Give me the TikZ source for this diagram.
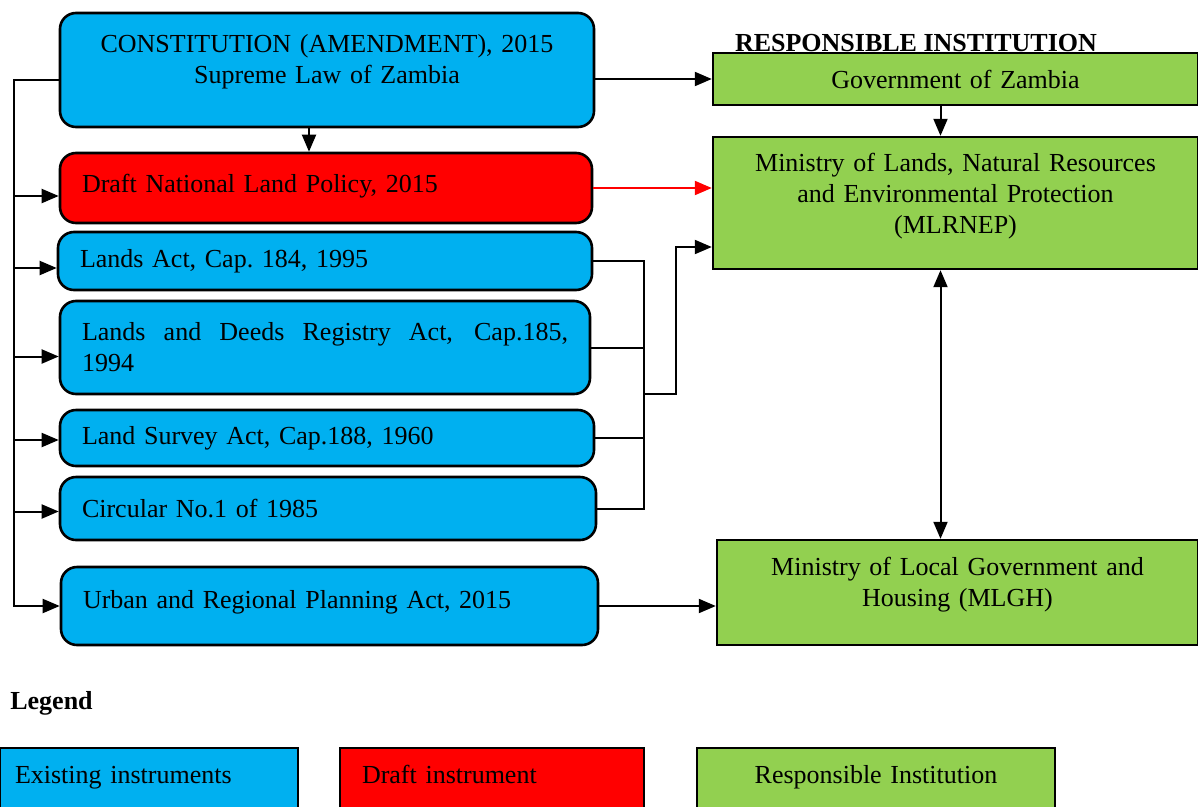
\documentclass[tikz,border=0pt]{standalone}
\usepackage{fontspec}
\setmainfont{Liberation Serif}
\usepackage{tikz}
\usetikzlibrary{arrows.meta,positioning}
\definecolor{instblue}{HTML}{00B0F0}
\definecolor{draftred}{HTML}{FF0000}
\definecolor{instgreen}{HTML}{92D050}

\begin{document}
\begin{tikzpicture}
[x=1pt,y=-1pt,
>={Triangle[length=17pt,width=14pt]},
line width=2pt,
every node/.style={font=\fontsize{26}{31}\selectfont},
law node/.style={draw, line width=2.6pt, rounded corners=16pt, fill=instblue,
  inner xsep=22pt, inner ysep=0pt, text width=490pt, align=left},
draft node/.style={law node, fill=draftred},
inst node/.style={draw, line width=2.4pt, fill=instgreen, inner sep=0pt,
  minimum width=485pt, text width=470pt, align=center},
legend node/.style={draw, line width=2.4pt, inner xsep=15pt, inner ysep=0pt,
  minimum height=62pt, text height=18pt, text depth=9pt},
heading/.style={font=\fontsize{26}{31}\selectfont\bfseries}]

  \useasboundingbox (0,0) rectangle (1198,806);

  % instruments
  \node[law node, minimum height=114pt, align=center, text depth=53pt] (const) at (327,70)
    {CONSTITUTION (AMENDMENT), 2015\\Supreme Law of Zambia};
  \node[draft node, minimum height=70pt, text width=488pt, text depth=10pt] (draft) at (326,188)
    {Draft National Land Policy, 2015};
  \node[law node, minimum height=58pt] (lands) at (325,261)
    {Lands Act, Cap.\ 184, 1995};
  \node[law node, minimum height=93pt, text width=486pt, align=justify] (deeds) at (325,347.5)
    {Lands and Deeds Registry Act, Cap.185,\linebreak 1994};
  \node[law node, minimum height=56pt] (survey) at (327,438)
    {Land Survey Act, Cap.188, 1960};
  \node[law node, minimum height=63pt, text width=492pt] (circular) at (328,508.5)
    {Circular No.1 of 1985};
  \node[law node, minimum height=78pt, text width=493pt, text depth=14pt] (urban) at (329.5,606)
    {Urban and Regional Planning Act, 2015};

  % responsible institutions
  \node[heading, anchor=base] (resp) at (916,51) {RESPONSIBLE INSTITUTION};
  \node[inst node, minimum height=52pt] (gov) at (955.5,79) {Government of Zambia};
  \node[inst node, minimum height=132pt, text depth=82pt] (mlrnep) at (955.5,203)
    {Ministry of Lands, Natural Resources\\and Environmental Protection\\(MLRNEP)};
  \node[inst node, minimum height=105pt, minimum width=481pt, text depth=53pt] (mlgh) at (957.5,592.5)
    {Ministry of Local Government and\\Housing (MLGH)};

  % left bus
  \coordinate (bus) at (14,80);
  \draw[->] ([yshift=-10pt]const.west) -- (bus) |- (urban.west);
  \foreach \law/\dy in {draft/8,lands/7,deeds/9,survey/2,circular/3}
    \draw[->] ([yshift=-\dy pt]bus |- \law.west) -- ([yshift=-\dy pt]\law.west);

  \draw[->] ([xshift=-18pt]const.south) -- ([xshift=-18pt]const.south |- draft.north);
  \draw[->] (const.east |- gov.west) -- (gov.west);
  \draw[->, draftred] (draft.east) -- (draft.east -| mlrnep.west);

  % acts joined to the ministry
  \coordinate (join) at (644,394);
  \coordinate (elbow) at (676,247);
  \draw (lands.east) -- (lands.east -| join) -- (circular.east -| join) -- (circular.east);
  \draw (deeds.east) -- (deeds.east -| join);
  \draw (survey.east) -- (survey.east -| join);
  \draw[->] (join) -| (elbow) -- (elbow -| mlrnep.west);

  \draw[->] ([xshift=-15pt]gov.south) -- ([xshift=-15pt]gov.south |- mlrnep.north);
  \draw[<->] ([xshift=-15pt]mlrnep.south) -- ([xshift=-15pt]mlrnep.south |- mlgh.north);
  \draw[->] (urban.east) -- (urban.east -| mlgh.west);

  % legend
  \node[heading, anchor=west] (legend) at (6,703) {Legend};
  \node[legend node, fill=instblue, minimum width=298pt, text width=268pt, align=left]
    (legexist) at (149,779) {Existing instruments};
  \node[legend node, fill=draftred, minimum width=304pt, inner xsep=22pt, text width=260pt, align=left]
    (legdraft) at (492,779) {Draft instrument};
  \node[legend node, fill=instgreen, minimum width=358pt, text width=328pt, align=center]
    (leginst) at (876,779) {Responsible Institution};

\end{tikzpicture}
\end{document}
